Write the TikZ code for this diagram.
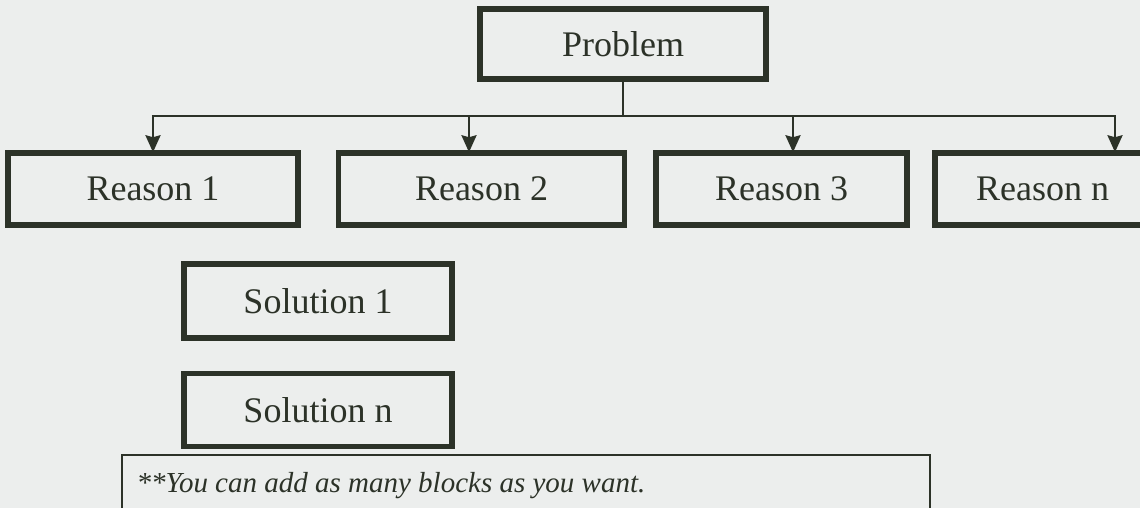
\documentclass[tikz,border=0pt]{standalone}
\usepackage{fontspec}
\setmainfont{Liberation Serif}
\usetikzlibrary{arrows.meta}
\definecolor{bg}{RGB}{236,238,237}
\definecolor{ink}{RGB}{44,50,40}
\tikzset{
  bigbox/.style={draw=ink, line width=5.5pt, fill=bg, inner sep=0pt, font=\fontsize{36}{40}\selectfont, text=ink},
  link/.style={draw=ink, line width=2.6pt},
  arr/.style={draw=ink, line width=2.4pt, -{Stealth[length=17pt,width=15pt,inset=2pt]}},
  notebox/.style={draw=ink, line width=2pt, fill=bg, inner sep=0pt},
}
\begin{document}
\begin{tikzpicture}[x=1pt,y=-1pt]
\clip (0,0) rectangle (1140,508);
\fill[bg] (0,0) rectangle (1140,508);
\node[bigbox, minimum width=286pt, minimum height=70pt] (prob) at (623,44) {Problem};
\node[bigbox, minimum width=290pt, minimum height=72pt] (r1) at (153,189) {Reason 1};
\node[bigbox, minimum width=286pt, minimum height=72pt] (r2) at (481.5,189) {Reason 2};
\node[bigbox, minimum width=251pt, minimum height=72pt] (r3) at (781.5,189) {Reason 3};
\node[bigbox, minimum width=215pt, minimum height=72pt] (rn) at (1042.5,189) {Reason n};
\node[bigbox, minimum width=268pt, minimum height=74pt] (s1) at (318,301) {Solution 1};
\node[bigbox, minimum width=268pt, minimum height=73pt] (sn) at (318,410) {Solution n};
\node[notebox, minimum width=808pt, minimum height=70pt] (note) at (526,490) {};
\node[anchor=base west, font=\fontsize{29}{34}\selectfont\itshape, text=ink] (notetext) at (133,492) {**You can add as many blocks as you want.};
\coordinate (hub) at (623,116);
\coordinate (b1) at (153,116);
\coordinate (b2) at (469,116);
\coordinate (b3) at (793,116);
\coordinate (b4) at (1115,116);
\draw[link] (prob.south) -- (hub);
\draw[link] ([xshift=-1.2pt]b1) -- ([xshift=1.2pt]b4);
\draw[arr] (b1) -- ([yshift=-2pt]b1 |- r1.north);
\draw[arr] (b2) -- ([yshift=-2pt]b2 |- r2.north);
\draw[arr] (b3) -- ([yshift=-2pt]b3 |- r3.north);
\draw[arr] (b4) -- ([yshift=-2pt]b4 |- rn.north);
\end{tikzpicture}
\end{document}
